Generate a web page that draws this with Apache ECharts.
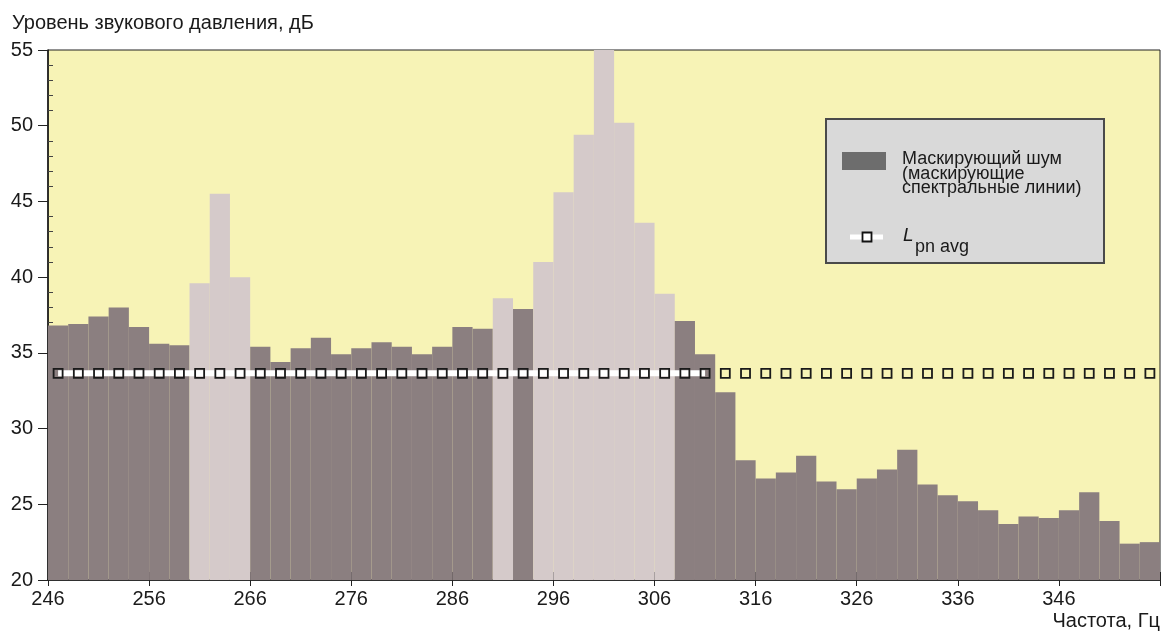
<!DOCTYPE html>
<html>
<head>
<meta charset="utf-8">
<script src="https://cdn.jsdelivr.net/npm/echarts@6/dist/echarts.min.js"></script>
<style>
  html, body { margin: 0; padding: 0; background: #fff; }
  #chart { width: 1161px; height: 633px; }
</style>
</head>
<body>
<div id="chart"></div>
<script>
// центры полос по 2 Гц
var binCentres = [247, 249, 251, 253, 255, 257, 259, 261, 263, 265,
                  267, 269, 271, 273, 275, 277, 279, 281, 283, 285,
                  287, 289, 291, 293, 295, 297, 299, 301, 303, 305,
                  307, 309, 311, 313, 315, 317, 319, 321, 323, 325,
                  327, 329, 331, 333, 335, 337, 339, 341, 343, 345,
                  347, 349, 351, 353, 355];
// уровни в полосах, дБ
var levels = [36.8, 36.9, 37.4, 38.0, 36.7, 35.6, 35.5, 39.6, 45.5, 40.0,
              35.4, 34.4, 35.3, 36.0, 34.9, 35.3, 35.7, 35.4, 34.9, 35.4,
              36.7, 36.6, 38.6, 37.9, 41.0, 45.6, 49.4, 57.0, 50.2, 43.6,
              38.9, 37.1, 34.9, 32.4, 27.9, 26.7, 27.1, 28.2, 26.5, 26.0,
              26.7, 27.3, 28.6, 26.3, 25.6, 25.2, 24.6, 23.7, 24.2, 24.1,
              24.6, 25.8, 23.9, 22.4, 22.5];
// полосы, занятые тональными составляющими (светлые)
var tonalBins = [7, 8, 9, 22, 24, 25, 26, 27, 28, 29, 30];
// средний уровень маскирующего шума L_pn avg и последняя полоса белой линии
var avgLevel = 33.65;
var lineLastBin = 32;
var xTicks = { min: 246, max: 356, step: 10 };
var yTicks = { min: 20, max: 55, step: 5 };

var noiseColor = '#8b7f80';
var toneColor = '#d5caca';
var font = 'Liberation Sans';
var ink = '#1a1a1a';

var barData = levels.map(function (v, i) {
    return {
        value: v,
        itemStyle: { color: tonalBins.indexOf(i) >= 0 ? toneColor : noiseColor }
    };
});
var markerData = levels.map(function () { return avgLevel; });
var lineData = markerData.slice(0, lineLastBin + 1);

var chart = echarts.init(document.getElementById('chart'));
var option = {
    animation: false,
    title: {
        text: 'Уровень звукового давления, дБ',
        left: 12, top: 13, padding: 0,
        textStyle: { fontFamily: font, fontSize: 20, fontWeight: 'normal', color: ink }
    },
    grid: {
        left: 48, right: 1, top: 50, bottom: 53,
        show: true, backgroundColor: '#f7f3b6',
        borderColor: '#222', borderWidth: 1
    },
    xAxis: [{
        type: 'category',
        data: binCentres,
        show: false,
        boundaryGap: true
    }, {
        // основная ось: штрихи внутрь
        type: 'value',
        position: 'bottom',
        min: xTicks.min, max: xTicks.max, interval: xTicks.step,
        axisLine: { lineStyle: { color: '#111', width: 1.5 } },
        axisTick: { inside: true, length: 8, lineStyle: { color: '#222' } },
        minorTick: { show: true, splitNumber: 2, length: 5, lineStyle: { color: '#333' } },
        splitLine: { show: false },
        axisLabel: { margin: 9, showMaxLabel: false, fontFamily: font, fontSize: 20, color: ink }
    }, {
        // продолжение штрихов вниз
        type: 'value',
        position: 'bottom',
        min: xTicks.min, max: xTicks.max, interval: xTicks.step,
        axisLine: { show: false },
        axisTick: { show: true, length: 6, lineStyle: { color: '#222' } },
        splitLine: { show: false },
        axisLabel: { show: false }
    }],
    yAxis: [{
        type: 'value',
        min: yTicks.min, max: yTicks.max, interval: yTicks.step,
        axisLine: { show: true, lineStyle: { color: '#111', width: 1.5 } },
        axisTick: { show: true, length: 10, lineStyle: { color: '#222' } },
        splitLine: { show: false },
        axisLabel: { margin: 15, fontFamily: font, fontSize: 20, color: ink }
    }, {
        type: 'value',
        position: 'left',
        min: yTicks.min, max: yTicks.max, interval: yTicks.step,
        axisLine: { show: false },
        axisTick: { show: false, inside: true },
        minorTick: { show: true, splitNumber: 5, length: 5, lineStyle: { color: '#444' } },
        splitLine: { show: false },
        axisLabel: { show: false }
    }],
    series: [{
        type: 'bar',
        xAxisIndex: 0, yAxisIndex: 0,
        data: barData,
        barWidth: '100%',
        clip: true,
        itemStyle: { borderWidth: 0 },
        z: 2
    }, {
        // белая линия среднего уровня
        type: 'line',
        xAxisIndex: 0, yAxisIndex: 0,
        data: lineData,
        symbol: 'none',
        color: '#ffffff',
        lineStyle: { color: '#ffffff', width: 6 },
        z: 5
    }, {
        type: 'line',
        xAxisIndex: 0, yAxisIndex: 0,
        data: markerData,
        symbol: 'rect',
        symbolSize: 9,
        lineStyle: { width: 0, opacity: 0 },
        itemStyle: { color: 'rgba(0,0,0,0)', borderColor: '#1a1a1a', borderWidth: 1.8 },
        z: 6
    }],
    graphic: [
        { type: 'rect', shape: { x: 826, y: 119, width: 278, height: 144 },
          style: { fill: '#d9d9d9', stroke: '#4a4a4a', lineWidth: 2 } },
        { type: 'rect', shape: { x: 842, y: 152, width: 44, height: 18 },
          style: { fill: '#6d6d6d' } },
        { type: 'text', x: 902, y: 152,
          style: { text: 'Маскирующий шум\n(маскирующие\nспектральные линии)',
                   font: '18px ' + font, lineHeight: 14.5, fill: ink } },
        { type: 'line', shape: { x1: 850, y1: 237, x2: 883, y2: 237 },
          style: { stroke: '#ffffff', lineWidth: 5 } },
        { type: 'rect', shape: { x: 862.5, y: 232.5, width: 9, height: 9 },
          style: { fill: '#ffffff', stroke: '#111', lineWidth: 1.8 } },
        { type: 'text', x: 903, y: 226,
          style: { text: 'L', font: 'italic 19px ' + font, fill: ink } },
        { type: 'text', x: 915, y: 238,
          style: { text: 'pn avg', font: '18px ' + font, fill: ink } },
        { type: 'text', right: 1, top: 611,
          style: { text: 'Частота, Гц', font: '20px ' + font, fill: ink } }
    ]
};
chart.setOption(option);
</script>
</body>
</html>
